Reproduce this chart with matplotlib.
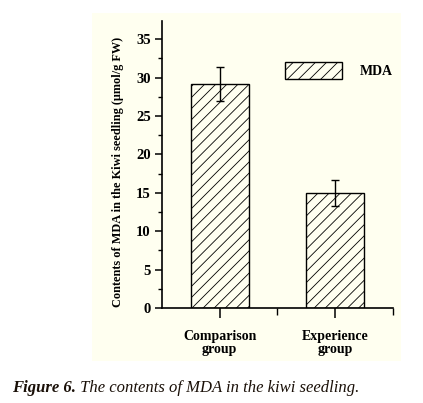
import matplotlib
matplotlib.use('Agg')
import matplotlib.pyplot as plt
from matplotlib.patches import Rectangle
from matplotlib.ticker import MultipleLocator, FixedLocator

# data
groups = ['Comparison\ngroup', 'Experience\ngroup']
mda = [29.2, 15.0]
mda_err = [2.2, 1.7]

plt.rcParams['font.family'] = ['Liberation Serif', 'DejaVu Serif']
plt.rcParams['hatch.linewidth'] = 0.6
plt.rcParams['hatch.color'] = '#444444'

fig = plt.figure(figsize=(4.23, 4.03), dpi=100)

# pale yellow panel behind the chart
fig.patches.append(Rectangle((0.2175, 0.104), 0.7305, 0.8635, transform=fig.transFigure,
                             facecolor='#fffff0', edgecolor='none', zorder=-5))

ax = fig.add_axes([0.383, 0.2357, 0.546, 0.713])
ax.patch.set_visible(False)

x = range(len(groups))
ax.bar(x, mda, width=0.5, color='none', edgecolor='black', linewidth=1.0,
       hatch='///', label='MDA', zorder=2)
ax.errorbar(x, mda, yerr=mda_err, fmt='none', ecolor='black', elinewidth=1.0,
            capsize=3, capthick=1.0, zorder=3)

ax.set_xlim(-0.5, 1.5)
ax.set_ylim(0, 37.4)
ax.yaxis.set_major_locator(MultipleLocator(5))
ax.yaxis.set_minor_locator(MultipleLocator(2.5))
ax.set_xticks(list(x))
ax.set_xticklabels(groups, fontsize=10, fontweight='bold', linespacing=1.0)
ax.xaxis.set_minor_locator(FixedLocator([0.5, 1.5]))
for lab in ax.get_yticklabels():
    lab.set_fontweight('bold')
    lab.set_fontsize(10.5)

ax.spines['top'].set_visible(False)
ax.spines['right'].set_visible(False)
for s in ['left', 'bottom']:
    ax.spines[s].set_linewidth(1.2)
ax.tick_params(axis='y', which='major', length=5, width=1.1, pad=3)
ax.tick_params(axis='y', which='minor', length=3, width=1.0)
ax.tick_params(axis='x', which='major', length=7, width=1.1, pad=9)
ax.tick_params(axis='x', which='minor', length=5, width=1.0)

ax.set_ylabel('Contents of MDA in the Kiwi seedling (\u03bcmol/g FW)', fontsize=8.8,
              fontweight='bold')
ax.yaxis.set_label_coords(-0.165, 0.473)

leg = ax.legend(loc='upper left', bbox_to_anchor=(285 / 423, 1 - 62 / 403),
                bbox_transform=fig.transFigure, frameon=False, borderpad=0,
                borderaxespad=0, handlelength=4.1, handleheight=1.5,
                handletextpad=1.3, prop={'weight': 'bold', 'size': 10})

t1 = fig.text(12 / 423, 1 - 392 / 403, 'Figure 6.', fontsize=12, style='italic',
              fontweight='bold', color='#1a1008')
ax.annotate(' The contents of MDA in the kiwi seedling.', xy=(1, 0), xycoords=t1,
            fontsize=12, style='italic', color='#1a1008', va='bottom',
            annotation_clip=False)

fig.savefig('out.png', dpi=100, facecolor='white')
